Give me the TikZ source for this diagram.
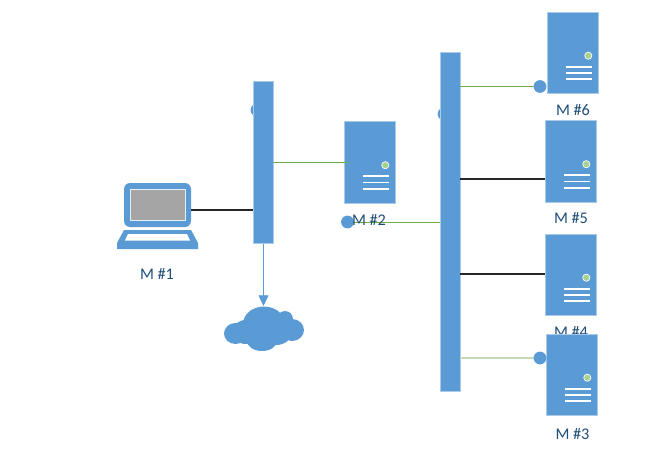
\documentclass[tikz,border=0pt]{standalone}
\usepackage{fontspec}
\setmainfont{Carlito}
\usetikzlibrary{arrows.meta}
\definecolor{netblue}{HTML}{5B9BD5}
\definecolor{edgeblue}{HTML}{A9CBE9}
\definecolor{netgreen}{HTML}{70AD47}
\definecolor{palegreen}{HTML}{C5DAB4}
\definecolor{ledgreen}{HTML}{A9D18E}
\definecolor{labelblue}{HTML}{1F4E79}
\definecolor{screengray}{HTML}{A5A5A5}
\tikzset{
  x=0.75pt, y=-0.75pt,
  busbar/.style={fill=netblue, draw=edgeblue, line width=0.5pt, minimum width=14.8pt, inner sep=0pt, anchor=north west},
  serverbody/.style={fill=netblue, draw=edgeblue, line width=0.5pt, minimum width=38.6pt, minimum height=61.2pt, inner sep=0pt, anchor=north west},
  netlabel/.style={text=labelblue, font=\fontsize{12.2pt}{14pt}\selectfont, inner sep=0pt},
  blackwire/.style={draw=black!85, line width=0.95pt},
  greenwire/.style={draw=netgreen, line width=0.7pt},
  palewire/.style={draw=palegreen, line width=1.1pt},
  portdot/.style={circle, fill=netblue, inner sep=0pt, minimum size=9.6pt},
  led/.style={circle, fill=ledgreen, draw=white, line width=0.5pt, inner sep=0pt, minimum size=5.4pt},
  ventline/.style={draw=white, line width=1.3pt},
}
\newcommand{\serverunit}[3]{%
  \node[serverbody] (#1) at (#2-0.5,#3-0.5) {};
  \node[led] (#1led) at (#2+41.3,#3+43.7) {};
  \foreach \vy in {54.8,61,67.2}
    \draw[ventline] (#2+19.3,#3+\vy) -- (#2+45,#3+\vy);
}
\begin{document}
\begin{tikzpicture}
\useasboundingbox (0,0) rectangle (658,464);
\fill[white] (0,0) rectangle (658,464);

% hidden ports behind the bars
\node[portdot] (port1) at (257,110) {};
\node[portdot] (port2) at (444,114) {};

% free wire ends
\coordinate (tapL) at (191,210);
\coordinate (tap2) at (349,162);
\coordinate (tapM2) at (347.5,222);
\coordinate (tapM6) at (540,86.5);
\coordinate (tapM5) at (545,179);
\coordinate (tapM4) at (545,274);
\coordinate (tapM3) at (540,358);

% bars
\node[busbar, minimum height=121.8pt] (bar1) at (253,80.5) {};
\node[busbar, minimum height=254.4pt] (bar2) at (440,52) {};

% laptop
\fill[netblue, rounded corners=4.5pt] (124,227) -- (124,183) -- (191,183) -- (191,227) -- cycle;
\fill[screengray, draw=white!85!netblue, line width=0.5pt] (130,189.5) rectangle (185.5,220);
\fill[netblue] (124,230) -- (191,230) -- (198,243) -- (198,249) -- (117,249) -- (117,243) -- cycle;
\fill[white] (128,234) -- (187,234) -- (190,240.5) -- (125,240.5) -- cycle;
\node[netlabel] (lM1) at (157,274) {M \#1};

% cloud
\coordinate (cloudtop) at (263.5,306);
\fill[netblue] (235.5,333.5) ellipse (11.5 and 10.5);
\fill[netblue] (246,332) ellipse (14 and 12);
\fill[netblue] (264,324) ellipse (21 and 17.5);
\fill[netblue] (285,319) ellipse (8 and 8);
\fill[netblue] (292,330) ellipse (12 and 11);
\fill[netblue] (276,334) ellipse (15 and 11);
\fill[netblue] (262,341) ellipse (15 and 10);

% servers
\serverunit{M6}{547}{12}
\serverunit{M5}{545}{120.5}
\serverunit{M4}{545}{234}
\serverunit{M2}{344}{121.5}

% labels beneath
\node[netlabel] (lM6) at (573,110) {M \#6};
\node[netlabel] (lM5) at (571,218) {M \#5};
\node[netlabel] (lM4) at (571,332) {M \#4};
\node[netlabel] (lM3) at (572.5,434) {M \#3};

\serverunit{M3}{546}{334}

% wires
\draw[blackwire] (tapL) -- (bar1.west |- tapL);
\draw[greenwire] (bar1.east |- tap2) -- (tap2);
\draw[greenwire] (tapM2) -- (bar2.west |- tapM2);
\draw[greenwire] (bar2.east |- tapM6) -- (tapM6);
\draw[blackwire] (bar2.east |- tapM5) -- (tapM5);
\draw[blackwire] (bar2.east |- tapM4) -- (tapM4);
\draw[palewire] (bar2.east |- tapM3) -- (tapM3);
\draw[netblue, line width=0.6pt, -{Triangle[width=7.5pt,length=8pt]}] (bar1.south -| cloudtop) -- (cloudtop);

% ports
\node[portdot] (dotM2) at (tapM2) {};
\node[portdot] (dotM6) at (tapM6) {};
\node[portdot] (dotM3) at (tapM3) {};
\node[netlabel] (lM2) at (369,220) {M \#2};
\end{tikzpicture}
\end{document}
